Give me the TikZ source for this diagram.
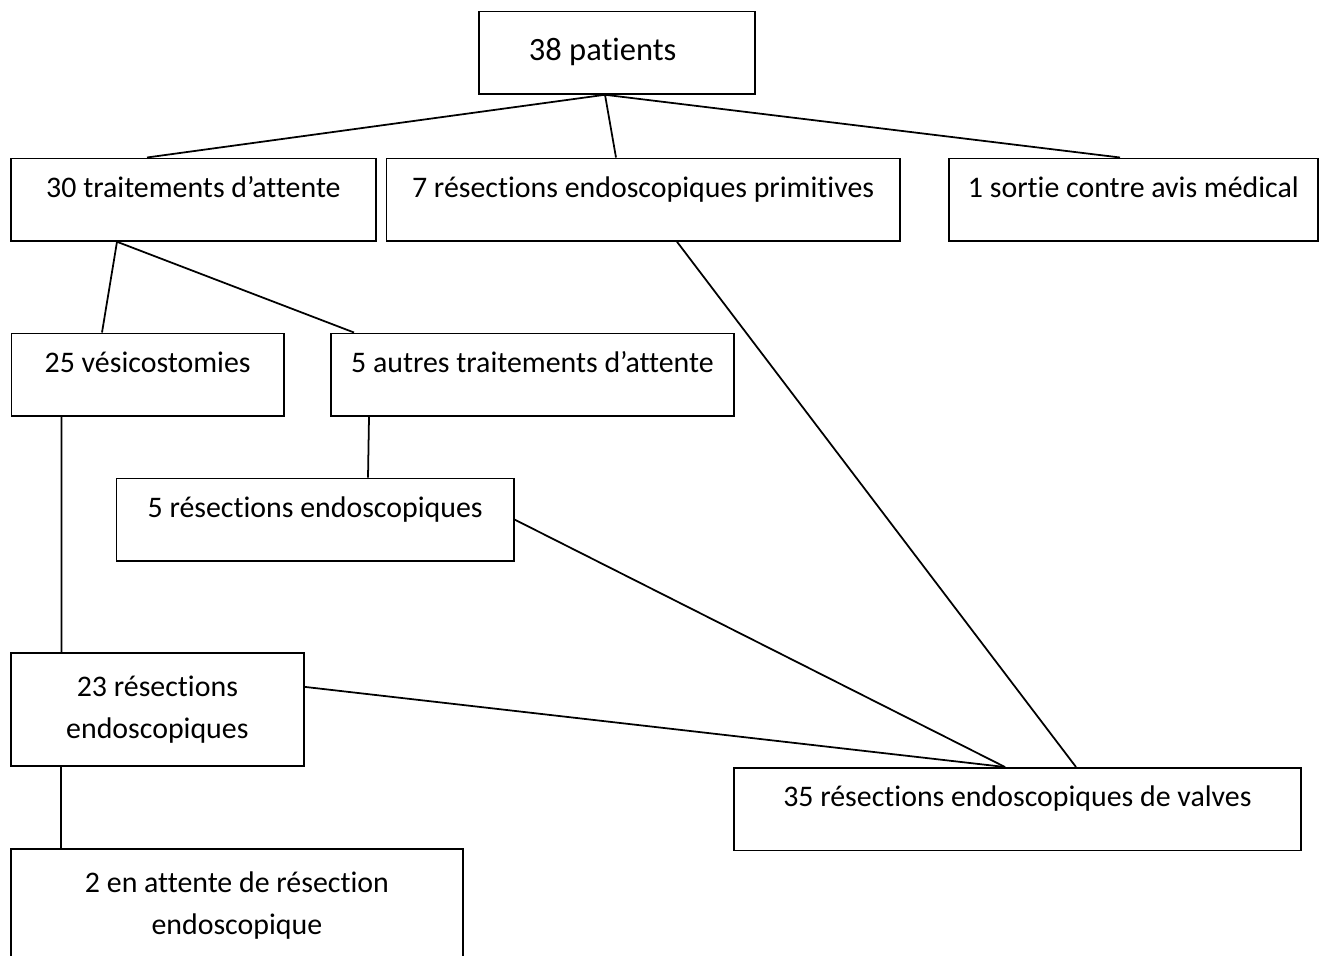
\documentclass[tikz,border=0pt]{standalone}
\usepackage{fontspec}
\setmainfont{Carlito}[Ligatures=CommonOff]

\begin{document}
\begin{tikzpicture}[
    box/.style={draw, line width=1pt, anchor=north west, inner ysep=0pt, font=\fontsize{17}{24}\selectfont},
    oneline/.style={box, text height=0.78cm, text depth=0.87cm},
    twoline/.style={box, align=center, minimum height=2.26cm}]
    \useasboundingbox (0,0) rectangle (26.48,-19.1);

    % Boxes
    \node[box, font=\fontsize{18.5}{22}\selectfont, text height=0.99cm, text depth=0.66cm, text width=3.52cm, inner xsep=1cm, align=flush left] (pat) at (9.56,-0.21) {38 patients};
    \node[oneline, minimum width=7.30cm] (att) at (0.20,-3.15) {30 traitements d’attente};
    \node[oneline, minimum width=10.27cm] (prim) at (7.71,-3.15) {7 résections endoscopiques primitives};
    \node[oneline, minimum width=7.38cm] (sort) at (18.96,-3.15) {1 sortie contre avis médical};
    \node[oneline, minimum width=5.45cm] (ves) at (0.21,-6.65) {25 vésicostomies};
    \node[oneline, minimum width=8.06cm] (aut) at (6.60,-6.65) {5 autres traitements d’attente};
    \node[oneline, minimum width=7.95cm] (res5) at (2.31,-9.55) {5 résections endoscopiques};
    \node[twoline, minimum width=5.86cm] (res23) at (0.20,-13.04) {23 résections\\endoscopiques};
    \node[oneline, minimum width=11.34cm] (val) at (14.66,-15.34) {35 résections endoscopiques de valves};
    \node[twoline, minimum width=9.04cm] (wait) at (0.20,-16.96) {2 en attente de résection\\endoscopique};

    % Connectors
    \draw[line width=1pt] ([xshift=2.54cm]pat.south west) -- ([xshift=2.74cm]att.north west);
    \draw[line width=1pt] ([xshift=2.54cm]pat.south west) -- ([xshift=4.61cm]prim.north west);
    \draw[line width=1pt] ([xshift=2.54cm]pat.south west) -- ([xshift=3.44cm]sort.north west);
    \draw[line width=1pt] ([xshift=2.14cm]att.south west) -- ([xshift=1.83cm]ves.north west);
    \draw[line width=1pt] ([xshift=2.14cm]att.south west) -- ([xshift=0.48cm]aut.north west);
    \draw[line width=1pt] ([xshift=1.02cm]ves.south west) -- ([xshift=1.03cm]res23.north west);
    \draw[line width=1pt] ([xshift=0.78cm]aut.south west) -- ([xshift=5.05cm]res5.north west);
    \draw[line width=1pt] (res5.east) -- ([xshift=5.44cm]val.north west);
    \draw[line width=1pt] ([yshift=0.45cm]res23.east) -- ([xshift=5.44cm]val.north west);
    \draw[line width=1pt] ([xshift=5.83cm]prim.south west) -- ([xshift=6.86cm]val.north west);
    \draw[line width=1pt] ([xshift=1.02cm]res23.south west) -- ([xshift=1.02cm]wait.north west);
\end{tikzpicture}
\end{document}
